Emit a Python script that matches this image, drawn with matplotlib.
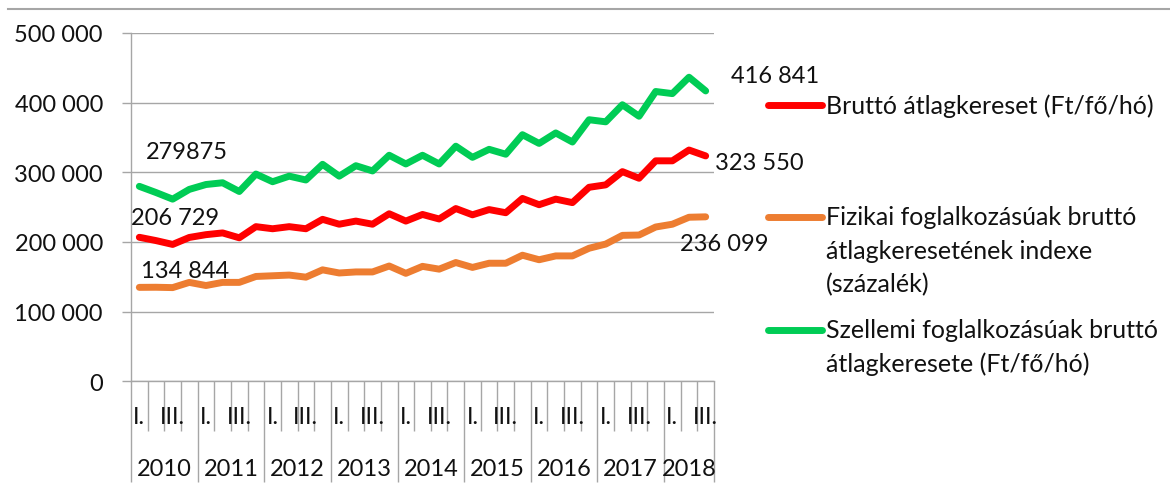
import matplotlib
matplotlib.use('Agg')
import matplotlib.pyplot as plt
import numpy as np
from matplotlib.lines import Line2D
from matplotlib.ticker import FixedLocator, FuncFormatter
import matplotlib.transforms as mtransforms

plt.rcParams['font.family'] = ['Lato', 'DejaVu Sans']

# ---- data ----
years = ['2010', '2011', '2012', '2013', '2014', '2015', '2016', '2017', '2018']
quarters_per_year = [4, 4, 4, 4, 4, 4, 4, 4, 3]
quarter_labels = ['I.', '', 'III.', '']

brutto = [206729, 202000, 196500, 206500, 210500, 213000, 206000, 222000,
          219000, 222000, 219000, 232500, 225500, 230000, 225500, 240500,
          230000, 239500, 233000, 248000, 239000, 246500, 242000, 262500,
          253500, 261500, 256500, 278500, 282000, 301000, 291500, 316500,
          316500, 332000, 323550]
fizikai = [134844, 135000, 134500, 142000, 137500, 142000, 142000, 150500,
           151500, 152500, 149500, 160000, 155500, 157000, 157000, 165500,
           155000, 165000, 161000, 170500, 163500, 169500, 169500, 181000,
           174500, 180000, 180000, 191000, 197000, 209500, 210000, 221500,
           225500, 235500, 236099]
szellemi = [279875, 271000, 261500, 275500, 282500, 285000, 272500, 297500,
            286500, 294500, 289000, 311500, 294500, 309500, 302000, 324500,
            312000, 324500, 312000, 337500, 321500, 333000, 326000, 354000,
            341500, 356500, 343500, 375500, 372500, 397000, 380500, 416000,
            413000, 436500, 416841]

series_names = ['Bruttó átlagkereset (Ft/fő/hó)',
                'Fizikai foglalkozásúak bruttó\nátlagkeresetének indexe\n(százalék)',
                'Szellemi foglalkozásúak bruttó\nátlagkeresete (Ft/fő/hó)']
first_labels = ['206 729', '134 844', '279875']
last_labels = ['323 550', '236 099', '416 841']

colors = ['#FF0000', '#ED7D31', '#00CC55']
gray = '#a6a6a6'
txtc = '#111111'
fs = 17
fs_leg = 18

W, H = 1170, 485
fig = plt.figure(figsize=(W / 100, H / 100), dpi=100)
ax_l, ax_r, ax_t, ax_b = 131, 714, 34, 382.3
ax = fig.add_axes([ax_l / W, 1 - ax_b / H, (ax_r - ax_l) / W, (ax_b - ax_t) / H])

data = [brutto, fizikai, szellemi]
n = len(brutto)
x = np.arange(n)
for vals, c in zip(data, colors):
    ax.plot(x, vals, color=c, lw=5, solid_capstyle='round', solid_joinstyle='round', zorder=3)

ax.set_xlim(-0.5, n - 0.5)
ax.set_ylim(0, 500000)
ax.yaxis.set_major_locator(FixedLocator(np.arange(0, 500001, 100000)))
ax.yaxis.set_major_formatter(FuncFormatter(lambda v, p: f'{int(v):,}'.replace(',', ' ')))
ax.grid(axis='y', color=gray, lw=1.0)
ax.set_axisbelow(True)
for s in ['top', 'right']:
    ax.spines[s].set_visible(False)
for s in ['left', 'bottom']:
    ax.spines[s].set_color(gray)
    ax.spines[s].set_linewidth(1.0)

ax.tick_params(axis='y', length=9 * 0.72, color=gray, width=1.0, pad=19 * 0.72,
               labelsize=fs, labelcolor=txtc)

# multi-level category axis
starts = np.cumsum([0] + quarters_per_year)
major = starts - 0.5
minor = [b for b in (np.arange(n + 1) - 0.5) if b not in set(major)]
ax.set_xticks(major)
ax.set_xticks(minor, minor=True)
ax.tick_params(axis='x', which='major', length=101 * 0.72, color=gray, width=1.0, labelbottom=False)
ax.tick_params(axis='x', which='minor', length=50 * 0.72, color=gray, width=1.0, labelbottom=False)

trans = mtransforms.blended_transform_factory(ax.transData, ax.transAxes)
ax_h = ax_b - ax_t
for yi, (yr, nq) in enumerate(zip(years, quarters_per_year)):
    s0 = starts[yi]
    for q in range(nq):
        lab = quarter_labels[q]
        if lab:
            ax.text(s0 + q, (ax_b - 418) / ax_h, lab, transform=trans, ha='center', va='center',
                    fontsize=fs, color=txtc)
    ax.text(s0 + (nq - 1) / 2, (ax_b - 470) / ax_h, yr, transform=trans, ha='center', va='center',
            fontsize=fs, color=txtc)

# data labels at first and last points
first_off = [(36, 20), (46, 17), (48, 35)]
last_off = [(54, -7), (19, -27), (69, 15.5)]
for vals, fl, ll, fo, lo in zip(data, first_labels, last_labels, first_off, last_off):
    ax.annotate(fl, (0, vals[0]), xytext=fo, textcoords='offset pixels', ha='center', va='center',
                fontsize=fs, color=txtc, annotation_clip=False)
    ax.annotate(ll, (n - 1, vals[-1]), xytext=lo, textcoords='offset pixels', ha='center', va='center',
                fontsize=fs, color=txtc, annotation_clip=False)

# legend (manual, Excel style)
leg_y = [106, 218, 331]
line_step = 33.5
for name, c, ly in zip(series_names, colors, leg_y):
    fig.add_artist(Line2D([768 / W, 822 / W], [1 - ly / H] * 2, color=c, lw=5,
                          solid_capstyle='round'))
    for k, line in enumerate(name.split('\n')):
        fig.text(826 / W, 1 - (ly + k * line_step) / H, line, ha='left', va='center',
                 fontsize=fs_leg, color=txtc)

# top rule
fig.add_artist(Line2D([8 / W, 1.0], [1 - 10 / H] * 2, color=gray, lw=1.5))

fig.savefig('out.png', dpi=100)
